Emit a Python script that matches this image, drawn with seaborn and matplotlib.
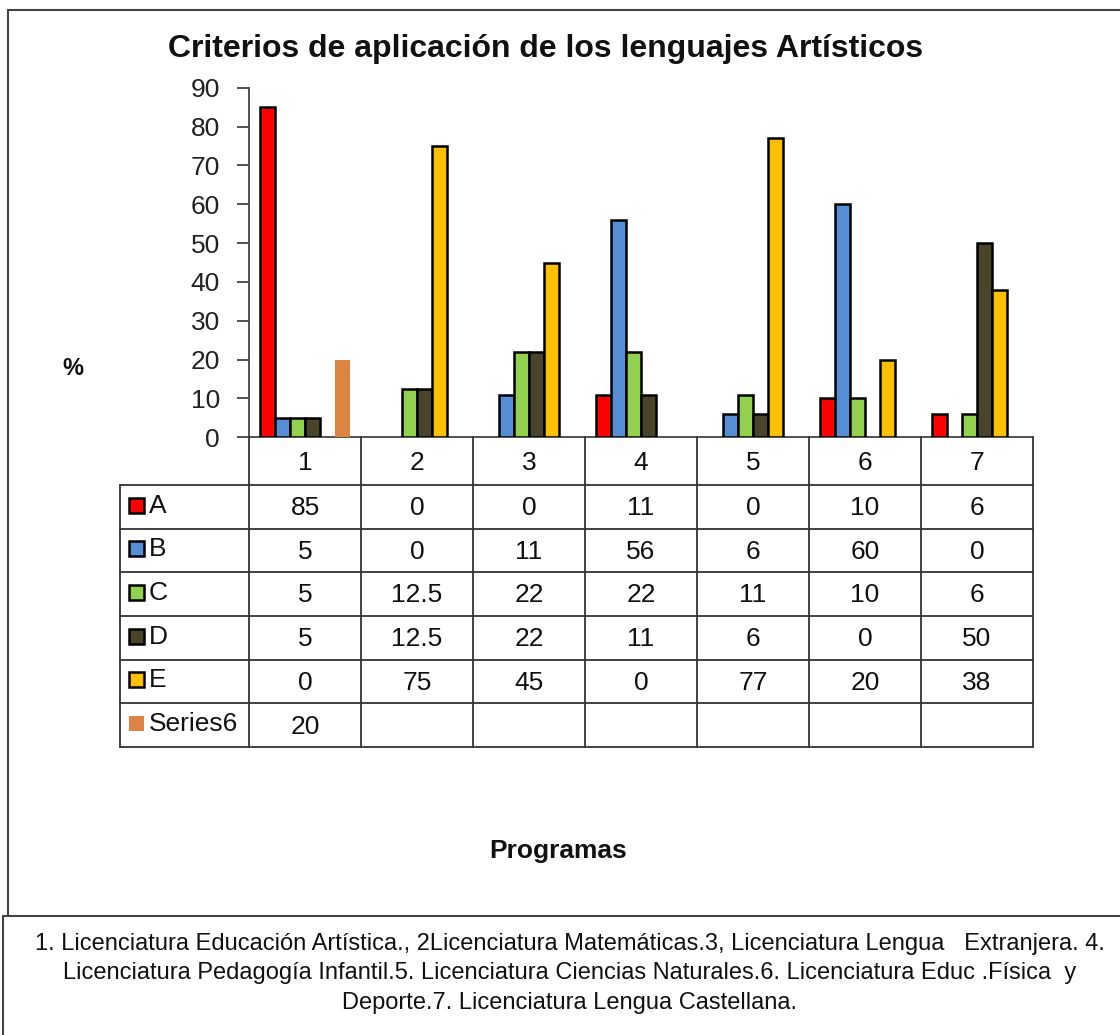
import matplotlib
matplotlib.use("Agg")
import matplotlib.pyplot as plt
from matplotlib.lines import Line2D
from matplotlib.patches import Rectangle
import seaborn as sns
import pandas as pd

# ---- data ----
programas = ["1", "2", "3", "4", "5", "6", "7"]
serie_A = [85, 0, 0, 11, 0, 10, 6]
serie_B = [5, 0, 11, 56, 6, 60, 0]
serie_C = [5, 12.5, 22, 22, 11, 10, 6]
serie_D = [5, 12.5, 22, 11, 6, 0, 50]
serie_E = [0, 75, 45, 0, 77, 20, 38]
serie_6 = [20, None, None, None, None, None, None]
series_names = ["A", "B", "C", "D", "E", "Series6"]
yticks = [0, 10, 20, 30, 40, 50, 60, 70, 80, 90]
title = "Criterios de aplicación de los lenguajes Artísticos"
ylabel = "%"
xlabel = "Programas"
nota = ["1. Licenciatura Educación Artística., 2Licenciatura Matemáticas.3, Licenciatura Lengua   Extranjera. 4.",
        "Licenciatura Pedagogía Infantil.5. Licenciatura Ciencias Naturales.6. Licenciatura Educ .Física  y",
        "Deporte.7. Licenciatura Lengua Castellana."]

colors = ["#FF0000", "#558ED5", "#92D050", "#4A452A", "#FFC000", "#DD8443"]

all_series = [serie_A, serie_B, serie_C, serie_D, serie_E, serie_6]
rows = []
for name, vals in zip(series_names, all_series):
    for p, v in zip(programas, vals):
        if v is not None:
            rows.append({"Programa": p, "Valor": v, "Serie": name})
df = pd.DataFrame(rows)

sns.set_style("white")
plt.rcParams["font.family"] = ["Liberation Sans", "DejaVu Sans"]

W, H = 1120, 1035
fig = plt.figure(figsize=(W / 100, H / 100), dpi=100)

def fx(x):
    return x / W

def fy(y):
    return 1 - y / H

# plot area geometry (pixels)
L, R, T, B = 249, 1033, 87.7, 437.3
ax = fig.add_axes([fx(L), fy(B), fx(R) - fx(L), fy(T) - fy(B)])

sns.barplot(data=df, x="Programa", y="Valor", hue="Serie", order=programas,
            hue_order=series_names, palette=colors, saturation=1,
            edgecolor="black", linewidth=1.8, errorbar=None, legend=False,
            width=0.8, ax=ax)

# Series6 without outline; zero bars invisible
for bar in ax.containers[-1]:
    bar.set_edgecolor(bar.get_facecolor())
    bar.set_linewidth(0)
for bar in ax.patches:
    if bar.get_height() == 0:
        bar.set_linewidth(0)

ax.set_ylim(0, 90)
ax.set_xlim(-0.5, len(programas) - 0.5)
ax.set_yticks(yticks)
ax.set_yticklabels([str(t) for t in yticks], fontsize=19, color="#222222")
ax.set_xticks([])
ax.set_xlabel("")
ax.set_ylabel("")
for s in ["top", "right"]:
    ax.spines[s].set_visible(False)
for s in ["left", "bottom"]:
    ax.spines[s].set_color("#444444")
    ax.spines[s].set_linewidth(1.3)
    ax.spines[s].set_zorder(0.5)
ax.tick_params(axis="y", which="major", left=True, length=9, width=1.3,
               color="#444444", pad=12)
ax.patch.set_alpha(0)

lc = "#333333"
lw = 1.3

def hline(y, x0, x1):
    fig.add_artist(Line2D([fx(x0), fx(x1)], [fy(y), fy(y)], color=lc, lw=lw))

def vline(x, y0, y1):
    fig.add_artist(Line2D([fx(x), fx(x)], [fy(y0), fy(y1)], color=lc, lw=lw))

# table
col_w = (R - L) / len(programas)
col_x = [L + i * col_w for i in range(len(programas) + 1)]
head_top, head_bot = B, 485
row_y = [485, 528.5, 572, 616, 659.5, 703, 747]
legend_left = 120
tfs = 19

for x in col_x:
    vline(x, head_top, head_bot)
for i, p in enumerate(programas):
    fig.text(fx(col_x[i] + col_w / 2), fy((head_top + head_bot) / 2 + 1.5), p,
             ha="center", va="center", fontsize=tfs, color="#111111")
for y in row_y:
    hline(y, legend_left, R)
vline(legend_left, row_y[0], row_y[-1])
for x in col_x:
    vline(x, row_y[0], row_y[-1])

def fmt(v):
    return "" if v is None else f"{v:g}"

for r, (name, vals, col) in enumerate(zip(series_names, all_series, colors)):
    yc = (row_y[r] + row_y[r + 1]) / 2
    key_has_edge = name != "Series6"
    fig.add_artist(Rectangle((fx(129), fy(yc + 6)), fx(15), 15 / H,
                             facecolor=col,
                             edgecolor="black" if key_has_edge else col,
                             lw=1.8 if key_has_edge else 0))
    fig.text(fx(149), fy(yc - 1), name, ha="left", va="center",
             fontsize=tfs, color="#111111")
    for i, v in enumerate(vals):
        fig.text(fx(col_x[i] + col_w / 2), fy(yc + 1.5), fmt(v), ha="center",
                 va="center", fontsize=tfs, color="#111111")

# titles and labels
fig.text(fx(546), fy(49), title, ha="center", va="center", fontsize=23,
         fontweight="bold", color="#111111")
fig.text(fx(73), fy(369), ylabel, ha="center", va="center", fontsize=17,
         fontweight="bold", color="#111111")
fig.text(fx(558), fy(851), xlabel, ha="center", va="center", fontsize=19,
         fontweight="bold", color="#111111")

# frames
fc = "#444444"
fig.add_artist(Line2D([fx(8), fx(8)], [fy(10), fy(916)], color=fc, lw=1.5))
fig.add_artist(Line2D([fx(8), fx(1120)], [fy(10), fy(10)], color=fc, lw=1.5))
fig.add_artist(Line2D([fx(3), fx(1120)], [fy(916), fy(916)], color=fc, lw=1.5))
fig.add_artist(Line2D([fx(3), fx(3)], [fy(916), fy(1035)], color=fc, lw=1.5))

for i, (line, yy) in enumerate(zip(nota, [944, 973, 1003])):
    fig.text(fx(570), fy(yy), line, ha="center", va="center",
             fontsize=17, color="#111111")

fig.savefig("out.png", dpi=100)
